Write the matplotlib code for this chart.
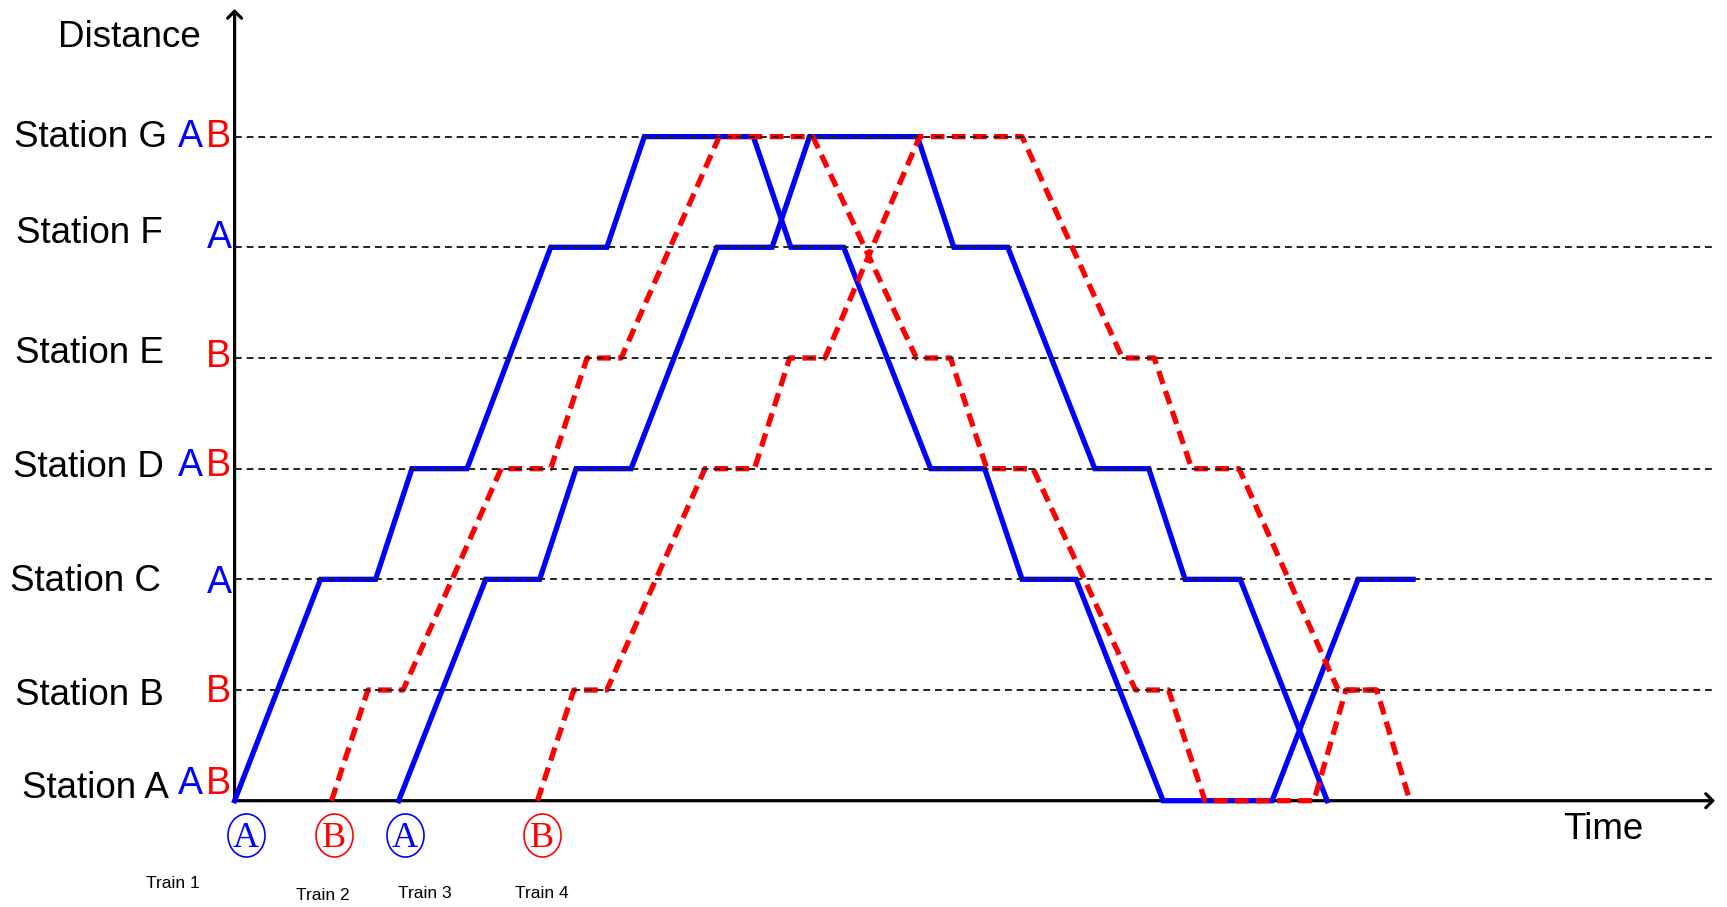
import numpy as np
import matplotlib
matplotlib.use("Agg")
import matplotlib.pyplot as plt
from matplotlib.path import Path
from matplotlib.transforms import offset_copy

plt.rcParams['font.family'] = ['Liberation Sans', 'DejaVu Sans']

# ---------------- data ----------------
stations = ["Station A", "Station B", "Station C", "Station D",
            "Station E", "Station F", "Station G"]
# which service stops where (A = blue trains, B = red trains)
stops_a = [True, False, True, True, False, True, True]
stops_b = [True, True, False, True, True, False, True]

# time (arbitrary units) / station index for each train
t1_time = [0, 7.8, 12.8, 16.1, 21.1, 28.7, 33.8, 37.2, 47.1, 50.5, 55.3,
           63.2, 68.1, 71.5, 76.4, 84.3, 94.2, 102.0, 107.0]
t1_stn = [0, 2, 2, 3, 3, 5, 5, 6, 6, 5, 5, 3, 3, 2, 2, 0, 0, 2, 2]

t2_time = [8.8, 12.1, 15.3, 24.2, 28.7, 32.0, 35.1, 44.0, 52.5, 61.9, 65.0,
           68.3, 72.5, 81.8, 84.8, 88.1, 98.0, 100.9, 103.9]
t2_stn = [0, 1, 1, 3, 3, 4, 4, 6, 6, 4, 4, 3, 3, 1, 1, 0, 0, 1, 1]

t3_time = [14.9, 22.8, 27.7, 31.0, 36.0, 43.8, 48.8, 52.2, 62.0, 65.3,
           70.2, 78.1, 83.0, 86.3, 91.3, 99.2]
t3_stn = [0, 2, 2, 3, 3, 5, 5, 6, 6, 5, 5, 3, 3, 2, 2, 0]

t4_time = [27.5, 30.8, 33.8, 42.7, 47.2, 50.4, 53.6, 62.2, 71.5, 80.6,
           83.5, 86.9, 91.2, 100.2, 103.7, 106.7]
t4_stn = [0, 1, 1, 3, 3, 4, 4, 6, 6, 4, 4, 3, 3, 1, 1, 0]

train_names = ["Train 1", "Train 2", "Train 3", "Train 4"]
train_service = ["A", "B", "A", "B"]

# ---------------- layout ----------------
W, H = 1727, 907
BLUE = "#0000ff"
RED = "#ff0000"

fig = plt.figure(figsize=(W / 100, H / 100), dpi=100)
x0, x1 = 234.6, 1715      # pixel positions of the axes
y_axis, y_top = 800.7, 9
ax = fig.add_axes([x0 / W, 1 - y_axis / H, (x1 - x0) / W, (y_axis - y_top) / H])
ax.set_xlim(0, (x1 - x0) / 11.014)
ax.set_ylim(0, (y_axis - y_top) / 110.68)
ax.axis("off")

# axes with arrows
arrow = dict(arrowstyle="->,head_length=0.5,head_width=0.5", lw=2.3,
             color="black", shrinkA=0, shrinkB=0)
ax.annotate("", xy=(1, 0), xytext=(0, 0), xycoords="axes fraction",
            arrowprops=arrow, annotation_clip=False, zorder=1)
ax.annotate("", xy=(0, 1), xytext=(0, 0), xycoords="axes fraction",
            arrowprops=arrow, annotation_clip=False, zorder=1)

# station grid lines
xmax = ax.get_xlim()[1]
for i in range(1, len(stations)):
    ax.plot([0, xmax], [i, i], color="#222222", lw=1.4, dashes=(3.5, 2.5),
            zorder=5)

# trains
for t, s in [(t1_time, t1_stn), (t3_time, t3_stn)]:
    ax.plot(t, s, color=BLUE, lw=3.8, solid_joinstyle="miter", zorder=2,
            clip_on=False)
for t, s in [(t2_time, t2_stn), (t4_time, t4_stn)]:
    ax.plot(t, s, color=RED, lw=3.8, dashes=(2.6, 1.4), zorder=3,
            clip_on=False)

# station labels + stop letters
name_off = [(-139.6, 15.7), (-145.6, -1.4), (-149.6, 2), (-146.6, 5),
            (-145.6, 8), (-145.6, 17.8), (-143.6, 2.6)]
let_dy = [19.7, 1.6, 0, 6, 4, 12.8, 2.6]
for i, name in enumerate(stations):
    dx, dy = name_off[i]
    ax.annotate(name, xy=(0, i), xycoords=("axes fraction", "data"),
                xytext=(dx, dy - 13.2), textcoords="offset pixels",
                ha="center", va="baseline", fontsize=26.5,
                annotation_clip=False)
    if stops_b[i]:
        ax.annotate("B", xy=(0, i), xycoords=("axes fraction", "data"),
                    xytext=(-16, let_dy[i] - 13.4), textcoords="offset pixels",
                    ha="center", va="baseline", fontsize=27, color=RED,
                    annotation_clip=False)
    if stops_a[i]:
        ax_dx = -44 if stops_b[i] else -15
        ax.annotate("A", xy=(0, i), xycoords=("axes fraction", "data"),
                    xytext=(ax_dx, let_dy[i] - 13.4), textcoords="offset pixels",
                    ha="center", va="baseline", fontsize=27, color=BLUE,
                    annotation_clip=False)

fig.text(129 / W, 1 - 47 / H, "Distance", ha="center", va="baseline", fontsize=26.5)
fig.text(1603 / W, 1 - 839 / H, "Time", ha="center", va="baseline", fontsize=26.5)

# circled service letters and train names under the start times
theta = np.linspace(0, 2 * np.pi, 73)
ellipse = Path(np.column_stack([0.86 * np.cos(theta), np.sin(theta)]))
circle_dx = [11.4, 2.5, 6.3, 4.2]
name_pos = [(-61.6, -83.3), (-8.5, -94.3), (26.3, -92.3), (4.5, -92.3)]
starts = [t1_time[0], t2_time[0], t3_time[0], t4_time[0]]
for k, start in enumerate(starts):
    col = BLUE if train_service[k] == "A" else RED
    tr = offset_copy(ax.transData, fig=fig, x=circle_dx[k], y=-34.5, units="dots")
    ax.plot([start], [0], transform=tr, marker=ellipse, ms=31, mfc="none",
            mec=col, mew=1.2, ls="none", clip_on=False)
    tr2 = offset_copy(ax.transData, fig=fig, x=circle_dx[k], y=-46.5, units="dots")
    ax.text(start, 0, train_service[k], transform=tr2, ha="center",
            va="baseline", fontsize=26, color=col,
            family=["Liberation Serif", "DejaVu Serif"], clip_on=False)
    tr3 = offset_copy(ax.transData, fig=fig, x=name_pos[k][0], y=name_pos[k][1],
                      units="dots")
    ax.text(start, 0, train_names[k], transform=tr3, ha="center", va="center",
            fontsize=12.5, clip_on=False)

fig.savefig("out.png", dpi=100)
